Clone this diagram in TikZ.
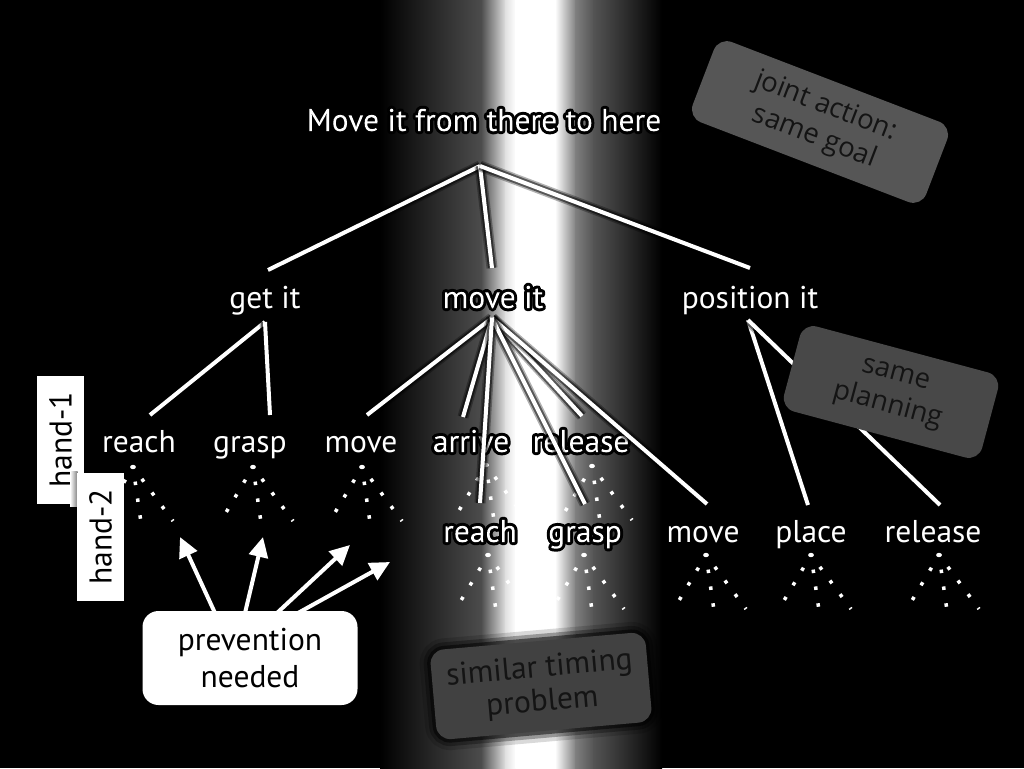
\documentclass[tikz,border=0pt]{standalone}
\usepackage{fontspec}
\setmainfont{PT Sans}
\newfontfamily\boxfont{Open Sans}
\usetikzlibrary{arrows.meta,calc}
\definecolor{jointgray}{HTML}{565656}
\definecolor{plangray}{HTML}{484848}
\definecolor{timegray}{HTML}{414141}
\definecolor{boxtext}{HTML}{141414}
\newcommand\labfont{\fontsize{31.5}{37}\selectfont}
\newcommand\timefont{\fontsize{31.5}{34}\selectfont}
\newcommand\gbfont{\boxfont\fontsize{27.5}{33}\selectfont}
% white text with a black outline halo (single text instance: fill+stroke+clip, then white refill)
\newcommand\halo[1]{\setbox0=\hbox{#1}%
  \pgfmathsetmacro\halox{\the\wd0*0.99626+4}%
  \pgfmathsetmacro\halowd{\halox+4}%
  \special{pdf:literal direct q 6 Tr 6 w 1 j 0 G}%
  \copy0
  \special{pdf:content 1 g -\halox\space -16 \halowd\space 62 re f}%
  \special{pdf:literal direct Q}}
\newcommand\fan[1]{%
  \draw[fanline] (#1) -- ++(-27,45.5);
  \draw[fanline] (#1) -- ++(7.5,52);
  \draw[fanline] (#1) -- ++(40,54);
  \fill[white] (#1) ellipse [x radius=2.9, y radius=2.2];}
\begin{document}
\begin{tikzpicture}[x=1pt,y=-1pt,
  lab/.style={text=white, inner sep=0pt, anchor=base, font=\labfont},
  conn/.style={draw=white, line width=4pt,
    preaction={draw=black, line width=11pt, draw opacity=0.3},
    preaction={draw=black, line width=8pt, draw opacity=0.5}},
  fanline/.style={draw=white, line width=3.5pt, dash pattern=on 3.5pt off 13.5pt, dash phase=2.25pt},
  arr/.style={draw=white, line width=4pt, -{Triangle[length=20pt,width=19pt]}},
  graybox/.style={text=boxtext, rounded corners=14pt, align=center, inner sep=0pt, font=\gbfont},
  handbox/.style={fill=white, text=black, inner sep=0pt, minimum width=128pt, minimum height=47pt, rotate=90, font=\labfont},
  prevbox/.style={fill=white, text=black, rounded corners=16pt, minimum width=215pt, minimum height=94pt, align=center, inner sep=0pt, font=\labfont}
]
\useasboundingbox (0,0) rectangle (1024,768);
% background with glowing band
\fill[black] (0,0) rectangle (1024,768);
\shade[left color=black, right color=black!70] (380,0) rectangle (482,768);
\shade[left color=black!70, right color=black!12] (481,0) rectangle (506,768);
\shade[left color=black!12, right color=white] (505,0) rectangle (516,768);
\fill[white] (515,0) rectangle (556,768);
\shade[left color=white, right color=black!50] (555,0) rectangle (576,768);
\shade[left color=black!50, right color=black!67] (575,0) rectangle (594,768);
\shade[left color=black!67, right color=black] (593,0) rectangle (662,768);

% labels
\node[lab] (top) at (484,131) {\halo{Move it from there to here}};
\node[lab] (getit) at (265,308) {get it};
\node[lab] (moveit) at (493,308) {\halo{move it}};
\node[lab] (posit) at (750,308) {position it};
\node[lab] (r1reach) at (139,452) {reach};
\node[lab] (r1grasp) at (250,452) {grasp};
\node[lab] (r1move) at (361,452) {move};
\node[lab] (r1arrive) at (471,452) {\halo{arrive}};
\node[lab] (r1release) at (581,452) {\halo{release}};
\node[lab] (r2reach) at (480,542) {\halo{reach}};
\node[lab] (r2grasp) at (585,542) {\halo{grasp}};
\node[lab] (r2move) at (703,542) {move};
\node[lab] (r2place) at (811,542) {place};
\node[lab] (r2release) at (933,542) {release};

% dotted fans
\coordinate (fa1) at (133,467);
\coordinate (fa2) at (253,467);
\coordinate (fa3) at (362,467);
\coordinate (fa4) at (486,465);
\coordinate (fa5) at (592,466);
\coordinate (fb1) at (488,555);
\coordinate (fb2) at (584,555);
\coordinate (fb3) at (706,555);
\coordinate (fb4) at (811,555);
\coordinate (fb5) at (939,555);
\foreach \f in {fa1,fa2,fa3,fa4,fa5,fb1,fb2,fb3,fb4,fb5}{\fan{\f}}

% tree connectors
\coordinate (ctop) at ($(top.base)+(-4,35)$);
\coordinate (cget) at ($(getit.base)+(0,14)$);
\coordinate (cmove) at ($(moveit.base)+(-1,10)$);
\coordinate (cpos) at ($(posit.base)+(-2,12)$);
\draw[conn] (ctop) -- ($(getit.base)+(3,-38)$);
\draw[conn] (ctop) -- ($(moveit.base)+(-1,-40)$);
\draw[conn] (ctop) -- ($(posit.base)+(0,-40)$);
\draw[conn] (cget) -- ($(r1reach.base)+(11,-37)$);
\draw[conn] (cget) -- ($(r1grasp.base)+(20,-37)$);
\draw[conn] (cmove) -- ($(r1move.base)+(6,-37)$);
\draw[conn] (cmove) -- ($(r1arrive.base)+(-8,-35)$);
\draw[conn] (cmove) -- ($(r1release.base)+(1,-36)$);
\draw[conn] (cmove) -- ($(r2move.base)+(4,-38)$);
\draw[conn] (cmove) -- ($(r2grasp.base)+(0,-38)$);
\draw[conn] (cmove) -- ($(r2reach.base)+(0,-39)$);
\draw[conn] (cpos) -- ($(r2place.base)+(-3,-37)$);
\draw[conn] (cpos) -- ($(r2release.base)+(7,-37)$);

% hand boxes
\node[handbox] (hand1) at (60.5,440) {hand-1};
\shade[left color=white, right color=black!50] (70,471) rectangle (77.5,506);
\node[handbox] (hand2) at (100.5,537) {hand-2};

% prevention box and arrows
\coordinate (t1) at (180,537);
\coordinate (t2) at (263,537);
\coordinate (t3) at (350,545);
\coordinate (t4) at (390,562);
\draw[arr] (250,613) ++(-35,0) -- (t1);
\draw[arr] (250,613) ++(-5,0) -- (t2);
\draw[arr] (250,613) ++(27,0) -- (t3);
\draw[arr] (250,613) ++(48,0) -- (t4);
\node[prevbox] (prev) at (250,658) {prevention\\needed};

% gray comment boxes
\node[graybox, fill=jointgray, rotate=-21, minimum width=250pt, minimum height=86pt] (joint) at (820,122) {joint action:\\same goal};
\node[graybox, fill=plangray, rotate=-15, minimum width=205pt, minimum height=88pt] (plan) at (891,392) {same\\planning};
\node[graybox, fill=timegray, font=\timefont, rotate=5, minimum width=216pt, minimum height=90pt,
  preaction={draw=black, line width=22pt, draw opacity=0.15},
  preaction={draw=black, line width=14pt, draw opacity=0.3},
  preaction={draw=black, line width=7pt, draw opacity=0.5}] (timing) at (541,686) {similar timing\\problem};
\end{tikzpicture}
\end{document}
